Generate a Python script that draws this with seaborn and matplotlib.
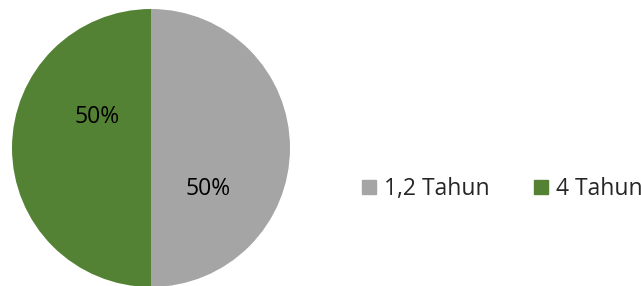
import matplotlib.pyplot as plt
import seaborn as sns
from matplotlib.lines import Line2D

# data
labels = ['1,2 Tahun', '4 Tahun']
values = [50, 50]
colors = ['#A5A5A5', '#548235']

sns.set_theme(style='white')
plt.rcParams['font.family'] = ['Open Sans', 'DejaVu Sans']

fig = plt.figure(figsize=(6.41, 2.86), dpi=100)
ax = fig.add_axes([12 / 641, -1 / 286, 278 / 641, 278 / 286])

wedges, texts, autotexts = ax.pie(
    values, colors=colors, startangle=90, counterclock=False,
    autopct='%1.0f%%', textprops=dict(fontsize=16.5, color='#000000'),
    wedgeprops=dict(linewidth=0),
)
ax.set_xlim(-1, 1)
ax.set_ylim(-1, 1)
ax.set_aspect('equal')

# excel-ish "best fit" label spots
autotexts[0].set_position((0.41, -0.295))
autotexts[1].set_position((-0.39, 0.225))

handles = [Line2D([], [], marker='s', linestyle='', markersize=9.5,
                  markerfacecolor=c, markeredgecolor=c) for c in colors]
fig.legend(handles, labels, loc='center left', bbox_to_anchor=(340 / 641, 97 / 286),
           ncol=2, frameon=False, handlelength=0.7,
           handletextpad=0.3, columnspacing=1.9,
           prop={'family': ['Open Sans', 'DejaVu Sans'], 'size': 16.5})

fig.savefig('out.png', dpi=100)
